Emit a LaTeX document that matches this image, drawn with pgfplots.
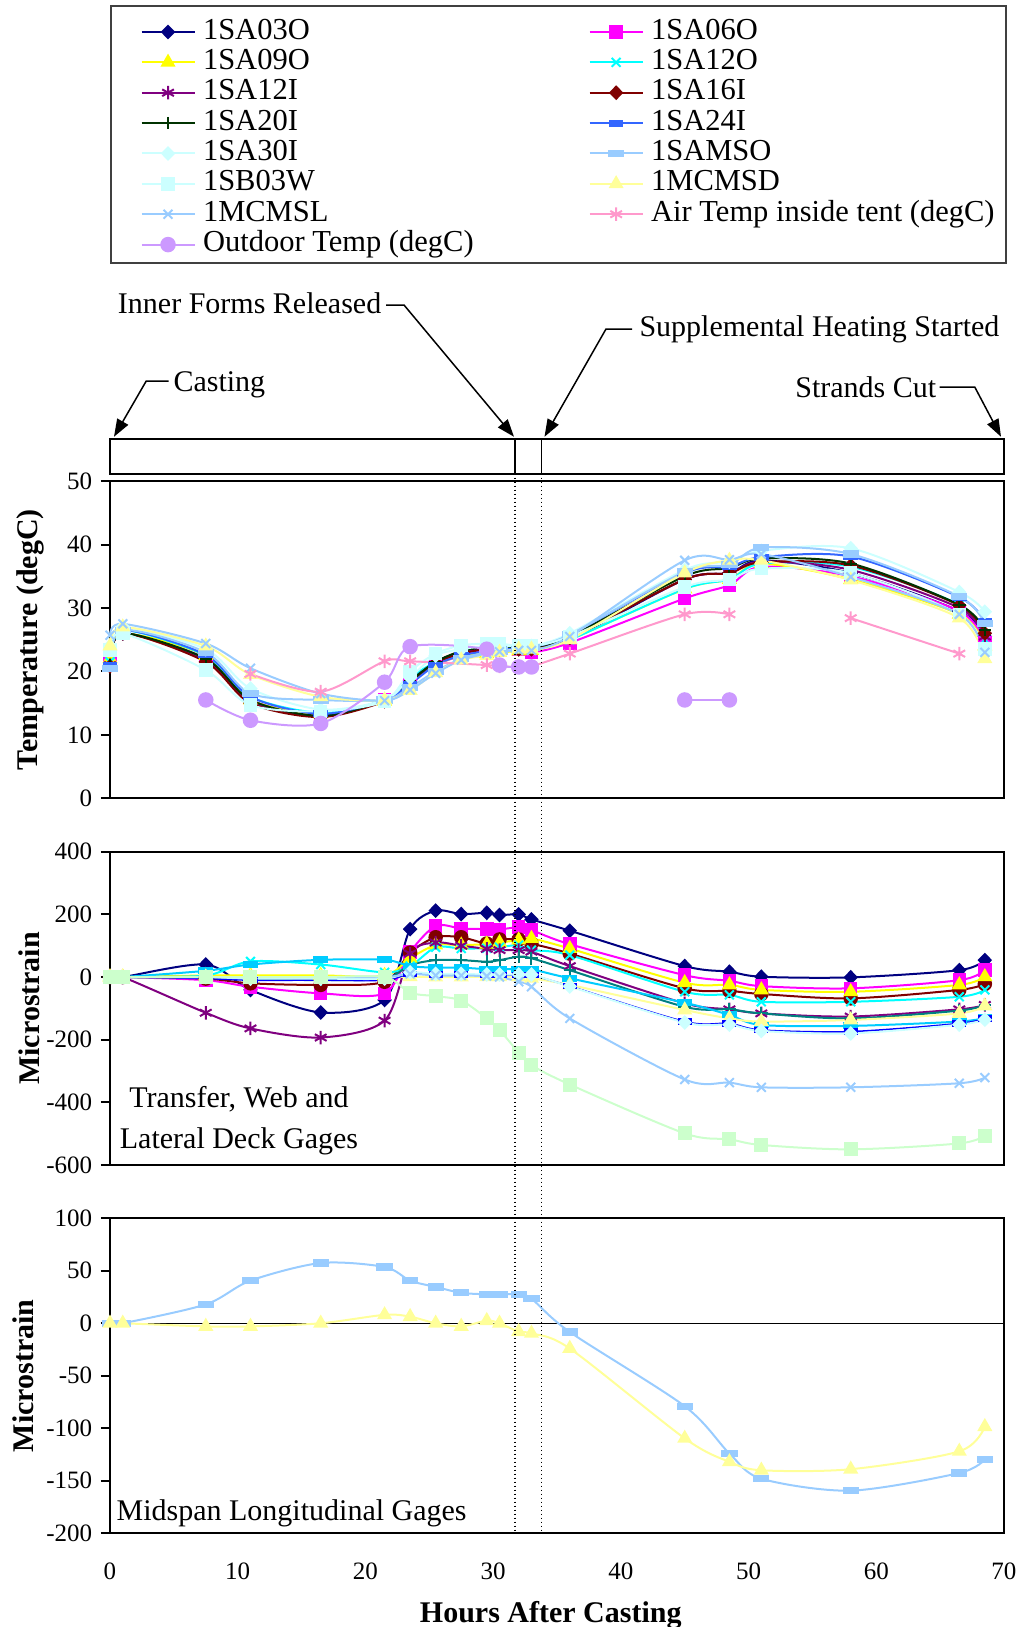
\documentclass[border=0pt]{standalone}
\usepackage{fontspec}
\setmainfont{Liberation Serif}
\usepackage{pgfplots}
\pgfplotsset{compat=1.18}
\usepackage{pgfplotstable}
\usetikzlibrary{arrows.meta}

\definecolor{cNavy}{HTML}{000080}
\definecolor{cMag}{HTML}{FF00FF}
\definecolor{cYel}{HTML}{FFFF00}
\definecolor{cCyan}{HTML}{00FFFF}
\definecolor{cPur}{HTML}{800080}
\definecolor{cDRed}{HTML}{800000}
\definecolor{cDGreen}{HTML}{003300}
\definecolor{cBlue}{HTML}{3366FF}
\definecolor{cLCyan}{HTML}{CCFFFF}
\definecolor{cLBlue}{HTML}{99CCFF}
\definecolor{cLYel}{HTML}{FFFF99}
\definecolor{cPink}{HTML}{FF99CC}
\definecolor{cLav}{HTML}{CC99FF}
\definecolor{cTeal}{HTML}{008080}
\definecolor{cSky}{HTML}{00CCFF}
\definecolor{cPBlue}{HTML}{0000FF}
\definecolor{cLGreen}{HTML}{CCFFCC}

\pgfplotstableread{
t     A03O  A06O  A09O  A12O  A12I  A16I  A20I  A24I  A30I  AMSO  B03W  MCD   MCL
0     21    21.5  22    21.5  21    20.8  21    21    24    20.5  23.4  24    25.7
1     26    26    26    26.5  26    26    26    26.5  27    26.5  26    27    27.5
7.5   22    22    22.5  22.5  21.8  21.5  22    22.6  23.5  23    20.2  24    24.4
11    15.5  15.5  15.5  16    15.2  15    15.5  16    17.3  16.5  14.7  19.5  20.5
16.5  13    13.2  13.3  13.5  13    12.8  13    13.3  14    15.5  13.7  16    16.5
21.5  15.5  15.5  15.3  15.5  15.5  15.3  15.5  15.5  15.5  15.5  15.3  15.5  15.4
23.5  18.5  18.5  18.5  19    18.5  18.3  18.5  18    19    17.5  20    17    17.1
25.5  21.5  21    21    21.5  21.5  21.3  21.5  21    22.5  20    22.8  19.8  19.7
27.5  23    22.5  22.5  23    23    22.8  23.2  22.5  23.5  22    24.1  21.8  21.8
29.5  23.5  23.5  22.8  23.5  23.5  23.5  23.8  23.2  24    23    24.4  22.5  22.8
30.5  23.5  23.5  23    23.5  23.5  23.5  23.8  23.5  24    23.2  24.4  23    23.1
32    23.5  23.5  23.2  23.5  23.5  23.5  23.8  23.5  24    23.5  24    23.5  23.3
33    23.5  23    23.3  23.5  23.5  23.5  23.8  23.8  24    23.8  24    23.5  23.3
36    25    24.5  25    25    25.3  25.3  25.5  25.8  26    25.8  25.5  25    25.5
45    34.5  31.5  33    33    34.5  34.5  35    35.5  36    35.7  33.3  35.5  37.5
48.5  35.5  33.6  34.5  34.5  35.5  35.5  36.3  36.5  37.3  36.8  34.5  37.5  37.6
51    37.5  36.5  37    37    37.3  37.2  37.8  38    39    39.5  36.2  37.5  38.5
58    35.5  35    34.5  36.5  36    36.7  37    38.1  39.4  38.5  35.5  34.4  34.9
66.5  29.5  29.5  29    30.5  30    30.4  30.5  31.7  32.5  31.8  29    28.4  29
68.5  25.5  24.5  24    25    25.5  26    26.5  27.8  29.4  27.5  23.5  22    23
}\temptab

\pgfplotstableread{
t     A     B     C     D     E     F     G     H     I     J     K     L     M
0     0     0     0     0     0     0     0     0     0     0     0     0     0
1     0     0     0     0     0     0     0     0     0     0     0     0     0
7.5   40    -10   -5    5     5     -114  0     20    0     -5    0     0     0
11    -41   -31   -20   5     50    -164  -5    40    0     -10   -5    0     0
16.5  -113  -52   -25   5     40    -193  -10   55    0     -10   -5    0     0
21.5  -73   -52   -15   5     15    -139  -5    55    0     -10   -5    0     0
23.5  153   80    78    60    35    75    38    35    1     10    15    10    -50
25.5  212   163   127   102   95    110   54    30    0     8     10    5     -61
27.5  201   155   127   102   91    100   54    30    0     8     10    5     -75
29.5  205   153   107   105   92    90    49    25    1     6     8     3     -132
30.5  198   152   120   110   95    86    54    25    1     6     8     0     -169
32    200   159   120   118   102   86    65    25    1     6     8     -15   -241
33    184   150   107   123   86    81    60    25    -4    6     8     -31   -281
36    148   105   75    91    70    35    22    -4    -25   -29   -30   -132  -343
45    35    6     -36   -18   -47   -84   -95   -82   -105  -142  -145  -327  -499
48.5  17    -12   -44   -25   -57   -103  -103  -121  -132  -148  -152  -337  -518
51    1     -29   -54   -41   -79   -116  -116  -153  -142  -169  -172  -352  -536
58    -1    -36   -68   -47   -79   -126  -132  -156  -137  -174  -180  -352  -550
66.5  22    -10   -41   -25   -63   -103  -107  -142  -116  -148  -152  -339  -531
68.5  54    22    -22   1     -41   -89   -89   -130  -92   -132  -136  -321  -506
}\straintab

\pgfplotstableread{
t     AMSO    MCD
0     0       0
1     0       0
7.5   18      -3
11    40.6    -3
16.5  57.4    0
21.5  53.6    8
23.5  40.6    6.3
25.5  34.6    0
27.5  29      -3
29.5  27.6    2.5
30.5  27.6    0
32    27.3    -8
33    23.4    -9.6
36    -8.3    -24
45    -79     -109.6
48.5  -124    -132
51    -148    -140
58    -159.4  -139
66.5  -142.6  -122
68.5  -129.6  -98.5
}\midtab

\pgfplotsset{
  panel/.style={scale only axis, width=357.6pt, xmin=0, xmax=70, clip=false,
    axis line style={line width=0.8pt},
    tick align=outside, major tick length=3.6pt,
    tick style={black, line width=0.8pt},
    ytick pos=left,
    ticklabel style={font=\fontsize{10}{12}\selectfont},
    /pgf/number format/assume math mode=true},
  ylab/.style={every axis y label/.style={at={(axis description cs:#1,0.5)}, rotate=90, anchor=center, font=\bfseries\fontsize{12}{14}\selectfont}},
  ser/.style={line width=0.8pt, smooth, mark options={solid}},
  sA/.style={ser, cNavy, mark=diamond*, mark size=2.4pt, mark options={fill=cNavy, xscale=1.3}},
  sB/.style={ser, cMag, mark=square*, mark size=2.3pt, mark options={fill=cMag}},
  sYel/.style={ser, cYel, mark=triangle*, mark size=2.7pt, mark options={fill=cYel}},
  sCyan/.style={ser, cCyan, mark=x, mark size=2.5pt},
  sPur/.style={ser, cPur, mark=asterisk, mark size=2.7pt},
  sDRed/.style={ser, cDRed, mark=diamond*, mark size=2.4pt, mark options={fill=cDRed, xscale=1.3}},
  sDRedC/.style={ser, cDRed, mark=*, mark size=2.5pt, mark options={fill=cDRed}},
  sDGreen/.style={ser, cDGreen, mark=+, mark size=2.5pt},
  sTeal/.style={ser, cTeal, mark=+, mark size=2.5pt},
  sBlue/.style={ser, cBlue, mark=square*, mark size=1.8pt, mark options={fill=cBlue, xscale=1.4, yscale=0.55}},
  sPBlue/.style={ser, cPBlue, line width=0.6pt, mark=square*, mark size=1.8pt, mark options={fill=cPBlue, xscale=1.4, yscale=0.55}},
  sSky/.style={ser, cSky, mark=square*, mark size=1.8pt, mark options={fill=cSky, xscale=1.4, yscale=0.55}},
  sLCyanD/.style={ser, cLCyan, mark=diamond*, mark size=2.4pt, mark options={fill=cLCyan, xscale=1.3}},
  sAMSO/.style={ser, cLBlue, mark=square*, mark size=1.9pt, mark options={fill=cLBlue, xscale=1.5, yscale=0.55}},
  sB03W/.style={ser, cLCyan, mark=square*, mark size=2.3pt, mark options={fill=cLCyan}},
  sLGreen/.style={ser, cLGreen, mark=square*, mark size=2.4pt, mark options={fill=cLGreen}},
  sMCD/.style={ser, cLYel, mark=triangle*, mark size=2.7pt, mark options={fill=cLYel}},
  sMCL/.style={ser, cLBlue, mark=x, mark size=2.5pt},
  sAir/.style={ser, cPink, mark=asterisk, mark size=2.7pt},
  sOut/.style={ser, cLav, mark=*, mark size=2.7pt, mark options={fill=cLav}},
}

\begin{document}
\begin{tikzpicture}
\useasboundingbox (0,0) rectangle (408.4pt,-650.8pt);

% legend frame
\draw[line width=0.6pt, black!75] (44.3pt,-2.3pt) rectangle (402.4pt,-105.2pt);

% event strip
\begin{axis}[at={(44pt,-189.4pt)}, anchor=south west, scale only axis,
  width=357.6pt, height=13.8pt, xmin=0, xmax=70, ymin=0, ymax=1,
  xtick=\empty, ytick=\empty, axis line style={line width=0.8pt}]
\draw[line width=0.6pt] (axis cs:31.7,0) -- (axis cs:31.7,1);
\draw[line width=0.6pt] (axis cs:33.8,0) -- (axis cs:33.8,1);
\end{axis}

% temperature panel
\begin{axis}[panel, at={(44pt,-319.32pt)}, anchor=south west, height=126.9pt,
  ymin=0, ymax=50, ytick={0,10,...,50}, xtick=\empty,
  ylabel={Temperature (degC)}, ylab=-0.0895,
  legend columns=2, legend cell align=left,
  legend image code/.code={\draw[mark repeat=2,mark phase=2,#1] plot coordinates {(0pt,0pt) (10.6pt,0pt) (21.2pt,0pt)};},
  legend style={at={(0.0336,2.465)}, anchor=north west, draw=none, fill=none, inner sep=0pt,
    font=\fontsize{12.2}{14}\selectfont,
    nodes={inner sep=0pt, text height=8.9pt, text depth=3.25pt},
    /tikz/every odd column/.append style={column sep=3pt},
    /tikz/every even column/.append style={column sep=46pt}}]
\addplot[sA] table[x=t,y=A03O]{\temptab}; \addlegendentry{1SA03O}
\addplot[sB] table[x=t,y=A06O]{\temptab}; \addlegendentry{1SA06O}
\addplot[sYel] table[x=t,y=A09O]{\temptab}; \addlegendentry{1SA09O}
\addplot[sCyan] table[x=t,y=A12O]{\temptab}; \addlegendentry{1SA12O}
\addplot[sPur] table[x=t,y=A12I]{\temptab}; \addlegendentry{1SA12I}
\addplot[sDRed] table[x=t,y=A16I]{\temptab}; \addlegendentry{1SA16I}
\addplot[sDGreen] table[x=t,y=A20I]{\temptab}; \addlegendentry{1SA20I}
\addplot[sBlue] table[x=t,y=A24I]{\temptab}; \addlegendentry{1SA24I}
\addplot[sLCyanD] table[x=t,y=A30I]{\temptab}; \addlegendentry{1SA30I}
\addplot[sAMSO] table[x=t,y=AMSO]{\temptab}; \addlegendentry{1SAMSO}
\addplot[sB03W] table[x=t,y=B03W]{\temptab}; \addlegendentry{1SB03W}
\addplot[sMCD] table[x=t,y=MCD]{\temptab}; \addlegendentry{1MCMSD}
\addplot[sMCL] table[x=t,y=MCL]{\temptab}; \addlegendentry{1MCMSL}
\addplot[sAir] coordinates {(11,19.6) (16.5,16.8) (21.5,21.6) (23.5,21.6) (29.5,21) (30.5,20.8) (32,20.7) (33,20.8) (36,22.8) (45,29) (48.5,29)};
\addlegendentry{Air Temp inside tent (degC)}
\addplot[sOut] coordinates {(7.5,15.5) (11,12.3) (16.5,11.8) (21.5,18.3) (23.5,23.9) (29.5,23.5) (30.5,21) (32,20.7) (33,20.7)};
\addlegendentry{Outdoor Temp (degC)}
\addplot[sAir, forget plot] coordinates {(58,28.4) (66.5,22.8)};
\addplot[sOut, forget plot] coordinates {(45,15.5) (48.5,15.5)};
\end{axis}

% strain panel
\begin{axis}[panel, at={(44pt,-466pt)}, anchor=south west, height=125.3pt,
  ymin=-600, ymax=400, ytick={-600,-400,...,400}, xtick=\empty,
  ylabel={Microstrain}, ylab=-0.0906]
\addplot[sA] table[x=t,y=A]{\straintab};
\addplot[sB] table[x=t,y=B]{\straintab};
\addplot[sDRedC] table[x=t,y=C]{\straintab};
\addplot[sYel] table[x=t,y=D]{\straintab};
\addplot[sCyan] table[x=t,y=E]{\straintab};
\addplot[sPur] table[x=t,y=F]{\straintab};
\addplot[sTeal] table[x=t,y=G]{\straintab};
\addplot[sSky] table[x=t,y=H]{\straintab};
\addplot[sMCD] table[x=t,y=I]{\straintab};
\addplot[sPBlue] table[x=t,y=J]{\straintab};
\addplot[sLCyanD] table[x=t,y=K]{\straintab};
\addplot[sMCL] table[x=t,y=L]{\straintab};
\addplot[sLGreen] table[x=t,y=M]{\straintab};
\node[align=center, font=\fontsize{12}{16.4}\selectfont] at (rel axis cs:0.1443,0.1404) {Transfer, Web and\\Lateral Deck Gages};
\end{axis}

% midspan panel
\begin{axis}[panel, at={(44pt,-613.3pt)}, anchor=south west, height=126pt,
  ymin=-200, ymax=100, ytick={-200,-150,...,100},
  xtick={0,10,...,70}, xtick style={draw=none},
  xticklabel style={yshift=-4.7pt},
  ylabel={Microstrain}, ylab=-0.0975,
  xlabel={Hours After Casting},
  every axis x label/.style={at={(axis description cs:0.5,0)}, anchor=base, yshift=-35.5pt, xshift=-2.5pt, font=\bfseries\fontsize{12}{14}\selectfont}]
\addplot[black, line width=0.5pt, forget plot] coordinates {(0,0) (70,0)};
\addplot[sAMSO] table[x=t,y=AMSO]{\midtab};
\addplot[sMCD] table[x=t,y=MCD]{\midtab};
\node[font=\fontsize{12}{14}\selectfont] at (rel axis cs:0.2032,0.0635) {Midspan Longitudinal Gages};
\end{axis}

% event lines through panels
\draw[densely dotted, line width=0.6pt] (205.94pt,-189.4pt) -- (205.94pt,-613.3pt);
\draw[densely dotted, line width=0.6pt] (216.67pt,-189.4pt) -- (216.67pt,-613.3pt);

% annotations
\tikzset{ann/.style={line width=0.6pt, -{Triangle[length=7pt,width=5pt]}}}
\node[anchor=base east, inner sep=0pt, font=\fontsize{12}{14}\selectfont] at (152.7pt,-125.3pt) {Inner Forms Released};
\draw[ann] (154.4pt,-122pt) -- (161.6pt,-122pt) -- (205.6pt,-174.7pt);
\node[anchor=base west, inner sep=0pt, font=\fontsize{12}{14}\selectfont] at (255.6pt,-134.7pt) {Supplemental Heating Started};
\draw[ann] (252.8pt,-131.6pt) -- (242.4pt,-131.6pt) -- (217.8pt,-174.7pt);
\node[anchor=base west, inner sep=0pt, font=\fontsize{12}{14}\selectfont] at (69.2pt,-156.7pt) {Casting};
\draw[ann] (67.4pt,-152.4pt) -- (58.5pt,-152.4pt) -- (45.6pt,-174.7pt);
\node[anchor=base east, inner sep=0pt, font=\fontsize{12}{14}\selectfont] at (374.7pt,-158.9pt) {Strands Cut};
\draw[ann] (375.8pt,-154.8pt) -- (389.9pt,-154.8pt) -- (400.4pt,-174.7pt);
\end{tikzpicture}
\end{document}
